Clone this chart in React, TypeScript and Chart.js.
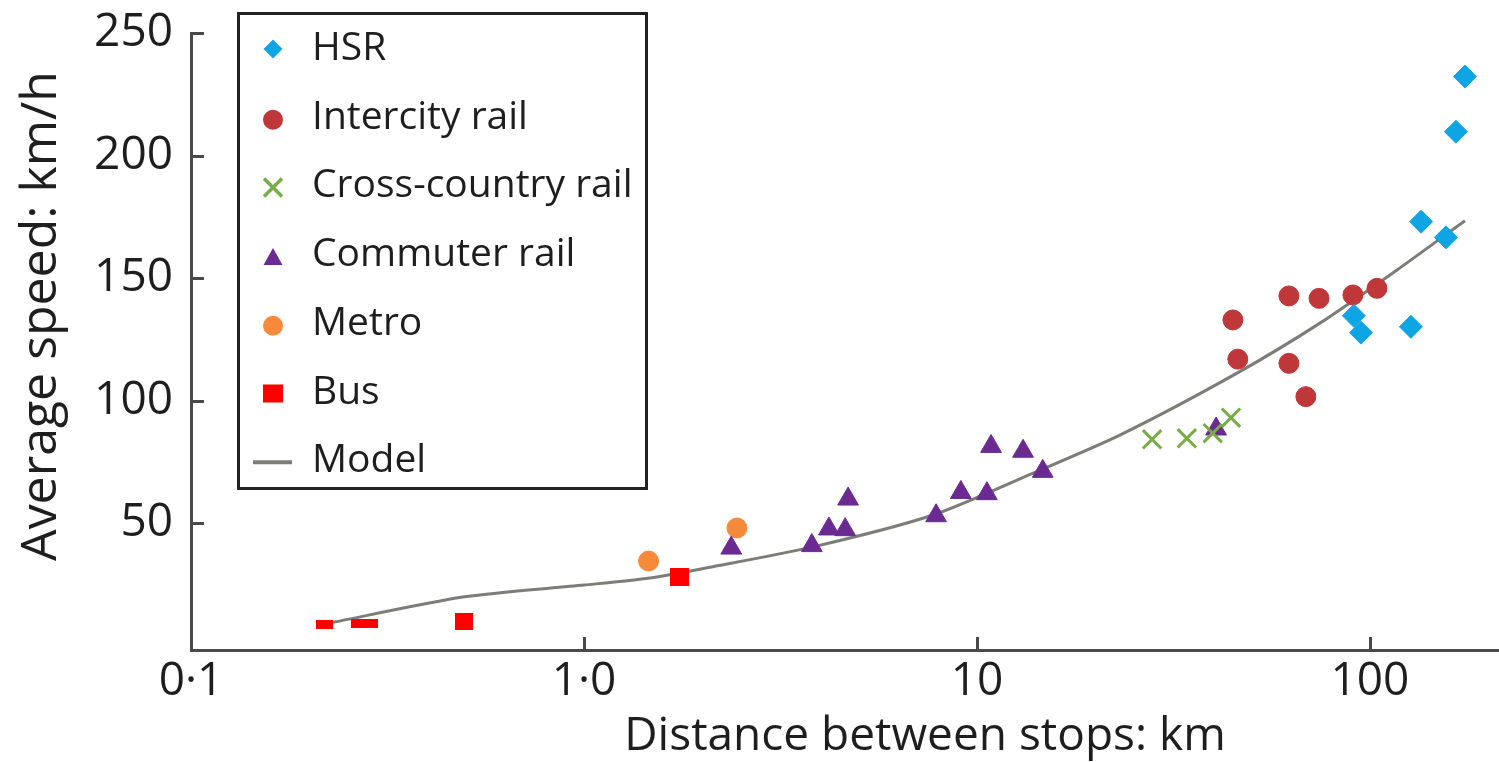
import React, { useEffect, useRef } from 'react';
import { Chart, registerables } from 'chart.js';

Chart.register(...registerables);

// ---- data ----
const hsrDistance = [91.0, 94.9, 127.1, 134.9, 156.1, 165.5, 174.5];
const hsrSpeed = [134.6, 127.7, 130.1, 173.0, 166.6, 209.7, 232.2];

const intercityDistance = [44.8, 46.1, 62.2, 62.2, 68.7, 74.2, 90.5, 104.2];
const intercitySpeed = [132.9, 116.9, 142.7, 115.2, 101.6, 141.7, 143.1, 145.8];

const crossCountryDistance = [27.9, 34.2, 39.8, 44.3];
const crossCountrySpeed = [84.2, 84.6, 86.7, 93.0];

const commuterDistance = [2.37, 3.8, 4.2, 4.62, 4.7, 7.87, 9.1, 10.6, 10.86, 13.1, 14.7, 40.6];
const commuterSpeed = [39.8, 40.8, 47.6, 47.3, 59.8, 53.0, 62.5, 62.0, 81.3, 79.3, 71.1, 88.4];

const metroDistance = [1.46, 2.45];
const metroSpeed = [34.5, 48.0];

const busDistance = [0.219, 0.269, 0.285, 0.495, 1.745];
const busSpeed = [8.8, 9.2, 9.2, 10.0, 28.0];

const modelDistance = [0.219, 0.492, 1.0, 1.47, 2.09, 3.83, 7.73, 13.9, 23.1, 45.9, 74.6, 117.2, 174.5];
const modelSpeed = [8.8, 19.8, 24.7, 27.6, 32.0, 40.3, 53.3, 70.4, 85.9, 111.2, 131.6, 153.3, 173.4];

const xTickValues = [0.1, 1, 10, 100];
const xTickLabels = ['0·1', '1·0', '10', '100'];
const yTickValues = [50, 100, 150, 200, 250];

const seriesLabels = ['HSR', 'Intercity rail', 'Cross-country rail', 'Commuter rail', 'Metro', 'Bus', 'Model'];
const xTitle = 'Distance between stops: km';
const yTitle = 'Average speed: km/h';

// ---- styles ----
const COLORS = {
  hsr: '#0ea5e4',
  intercity: '#c0373a',
  cross: '#78ac44',
  commuter: '#6b2a92',
  metro: '#f68a3a',
  bus: '#ff0000',
  model: '#7d7d78',
  axis: '#4a4a4a',
  text: '#1e1e1e',
};
const FONT = '"Open Sans", "Noto Sans", sans-serif';
const busMarkerSizes: [number, number][] = [
  [17, 9],
  [17, 9],
  [17, 9],
  [18, 17],
  [19, 18],
];

function makeRect(w: number, h: number, color: string): HTMLCanvasElement {
  const c = document.createElement('canvas');
  c.width = w;
  c.height = h;
  const g = c.getContext('2d')!;
  g.fillStyle = color;
  g.fillRect(0, 0, w, h);
  return c;
}

function pts(xs: number[], ys: number[]) {
  return xs.map((x, i) => ({ x, y: ys[i] }));
}

// stretch the x scale to the right edge of the canvas
const layoutFixPlugin = {
  id: 'layoutFix',
  afterLayout(chart: any) {
    const xs = chart.scales.x;
    const target = chart.width;
    if (xs && xs.right !== target) {
      xs.right = target;
      xs.width = xs.right - xs.left;
      xs.configure();
      chart.chartArea.right = target;
      chart.chartArea.width = target - chart.chartArea.left;
    }
  },
};

const overlayPlugin = {
  id: 'overlay',
  afterDraw(chart: any) {
    const ctx: CanvasRenderingContext2D = chart.ctx;
    const area = chart.chartArea;
    const xs = chart.scales.x;
    const ys = chart.scales.y;
    ctx.save();
    // inward tick marks
    ctx.strokeStyle = COLORS.axis;
    ctx.lineWidth = 3;
    yTickValues.forEach((v) => {
      const py = Math.round(ys.getPixelForValue(v)) + 0.5;
      ctx.beginPath();
      ctx.moveTo(area.left, py);
      ctx.lineTo(area.left + 13, py);
      ctx.stroke();
    });
    xTickValues.slice(1).forEach((v) => {
      const px = Math.round(xs.getPixelForValue(v)) + 0.5;
      ctx.beginPath();
      ctx.moveTo(px, area.bottom);
      ctx.lineTo(px, area.bottom - 13);
      ctx.stroke();
    });

    // axis titles
    ctx.fillStyle = COLORS.text;
    ctx.font = `46px ${FONT}`;
    ctx.textAlign = 'center';
    ctx.textBaseline = 'alphabetic';
    ctx.fillText(xTitle, 925, 750);
    ctx.save();
    ctx.font = `50px ${FONT}`;
    ctx.translate(56, 316);
    ctx.rotate(-Math.PI / 2);
    ctx.fillText(yTitle, 0, 0);
    ctx.restore();

    // legend box
    const bx = 237, by = 12, bw = 411, bh = 478;
    ctx.fillStyle = '#ffffff';
    ctx.fillRect(bx, by, bw, bh);
    ctx.strokeStyle = '#222222';
    ctx.lineWidth = 3;
    ctx.strokeRect(bx + 1.5, by + 1.5, bw - 3, bh - 3);

    const mx = 273;
    const textX = 312;
    ctx.font = `39px ${FONT}`;
    ctx.textAlign = 'left';
    seriesLabels.forEach((label, i) => {
      const base = 60 + i * 68.7;
      const my = base - 11;
      ctx.fillStyle = COLORS.text;
      ctx.fillText(label, textX, base);
      ctx.beginPath();
      if (i === 0) {
        ctx.fillStyle = COLORS.hsr;
        ctx.moveTo(mx, my - 9.5);
        ctx.lineTo(mx + 9.5, my);
        ctx.lineTo(mx, my + 9.5);
        ctx.lineTo(mx - 9.5, my);
        ctx.closePath();
        ctx.fill();
      } else if (i === 1) {
        ctx.fillStyle = COLORS.intercity;
        ctx.arc(mx, my + 2, 10, 0, Math.PI * 2);
        ctx.fill();
      } else if (i === 2) {
        ctx.strokeStyle = COLORS.cross;
        ctx.lineWidth = 3.5;
        ctx.moveTo(mx - 9, my - 8);
        ctx.lineTo(mx + 9, my + 10);
        ctx.moveTo(mx + 9, my - 8);
        ctx.lineTo(mx - 9, my + 10);
        ctx.stroke();
      } else if (i === 3) {
        ctx.fillStyle = COLORS.commuter;
        ctx.moveTo(mx, my - 7);
        ctx.lineTo(mx + 9.5, my + 10);
        ctx.lineTo(mx - 9.5, my + 10);
        ctx.closePath();
        ctx.fill();
      } else if (i === 4) {
        ctx.fillStyle = COLORS.metro;
        ctx.arc(mx, my + 2, 10, 0, Math.PI * 2);
        ctx.fill();
      } else if (i === 5) {
        ctx.fillStyle = COLORS.bus;
        ctx.fillRect(mx - 10, my - 8, 20, 18);
      } else {
        ctx.strokeStyle = COLORS.model;
        ctx.lineWidth = 4;
        ctx.moveTo(mx - 20, my + 1);
        ctx.lineTo(mx + 19, my + 1);
        ctx.stroke();
      }
    });
    ctx.restore();
  },
};

export default function App() {
  const ref = useRef<HTMLCanvasElement | null>(null);

  useEffect(() => {
    document.body.style.margin = '0';
    const canvas = ref.current!;
    const busStyles = busMarkerSizes.map(([w, h]) => makeRect(w, h, COLORS.bus));

    const chart = new Chart(canvas, {
      type: 'scatter',
      data: {
        datasets: [
          {
            label: seriesLabels[0],
            data: pts(hsrDistance, hsrSpeed),
            pointStyle: 'rectRot',
            pointRadius: 11.5,
            backgroundColor: COLORS.hsr,
            borderColor: COLORS.hsr,
            borderWidth: 1,
          },
          {
            label: seriesLabels[1],
            data: pts(intercityDistance, intercitySpeed),
            pointStyle: 'circle',
            pointRadius: 10,
            backgroundColor: COLORS.intercity,
            borderColor: COLORS.intercity,
            borderWidth: 1,
          },
          {
            label: seriesLabels[2],
            data: pts(crossCountryDistance, crossCountrySpeed),
            pointStyle: 'crossRot',
            pointRadius: 13,
            backgroundColor: COLORS.cross,
            borderColor: COLORS.cross,
            borderWidth: 3,
          },
          {
            label: seriesLabels[3],
            data: pts(commuterDistance, commuterSpeed),
            pointStyle: 'triangle',
            pointRadius: 12,
            backgroundColor: COLORS.commuter,
            borderColor: COLORS.commuter,
            borderWidth: 1,
          },
          {
            label: seriesLabels[4],
            data: pts(metroDistance, metroSpeed),
            pointStyle: 'circle',
            pointRadius: 10,
            backgroundColor: COLORS.metro,
            borderColor: COLORS.metro,
            borderWidth: 1,
          },
          {
            label: seriesLabels[5],
            data: pts(busDistance, busSpeed),
            pointStyle: busStyles as any,
            pointRadius: 10,
            backgroundColor: COLORS.bus,
            borderColor: COLORS.bus,
          },
          {
            type: 'line',
            label: seriesLabels[6],
            data: pts(modelDistance, modelSpeed),
            showLine: true,
            pointRadius: 0,
            borderColor: COLORS.model,
            borderWidth: 3,
            tension: 0.25,
            fill: false,
          } as any,
        ],
      },
      options: {
        animation: false,
        responsive: false,
        maintainAspectRatio: false,
        events: [],
        layout: { padding: { top: 33, right: 0, bottom: 0, left: 0 } },
        plugins: {
          legend: { display: false },
          tooltip: { enabled: false },
          title: { display: false },
        },
        scales: {
          x: {
            type: 'logarithmic',
            position: 'bottom',
            min: 0.1,
            max: 213,
            afterBuildTicks: (scale: any) => {
              scale.ticks = xTickValues.map((v) => ({ value: v }));
            },
            afterFit: (scale: any) => {
              scale.height = 112;
              scale.paddingLeft = 0;
              scale.paddingRight = 0;
              scale.paddingTop = 0;
              scale.paddingBottom = 0;
            },
            grid: { display: false, drawTicks: false },
            border: { display: true, color: COLORS.axis, width: 3 },
            ticks: {
              autoSkip: false,
              maxRotation: 0,
              padding: 4,
              color: COLORS.text,
              font: { family: FONT, size: 46 },
              callback: (value: any) => {
                const i = xTickValues.indexOf(Number(value));
                return i >= 0 ? xTickLabels[i] : '';
              },
            },
          },
          y: {
            type: 'linear',
            position: 'left',
            min: -1.8,
            max: 250,
            afterBuildTicks: (scale: any) => {
              scale.ticks = yTickValues.map((v) => ({ value: v }));
            },
            afterFit: (scale: any) => {
              scale.width = 191;
              scale.paddingLeft = 0;
              scale.paddingRight = 0;
              scale.paddingTop = 0;
              scale.paddingBottom = 0;
            },
            grid: { display: false, drawTicks: false },
            border: { display: true, color: COLORS.axis, width: 3 },
            ticks: {
              autoSkip: false,
              padding: 18,
              color: COLORS.text,
              font: { family: FONT, size: 46 },
              callback: (value: any) => String(value),
            },
          },
        },
      },
      plugins: [layoutFixPlugin, overlayPlugin],
    });

    return () => {
      chart.destroy();
    };
  }, []);

  return (
    <div style={{ width: 1499, height: 762, position: 'relative', background: '#ffffff' }}>
      <canvas ref={ref} width={1499} height={762} style={{ display: 'block', width: 1499, height: 762 }} />
    </div>
  );
}
